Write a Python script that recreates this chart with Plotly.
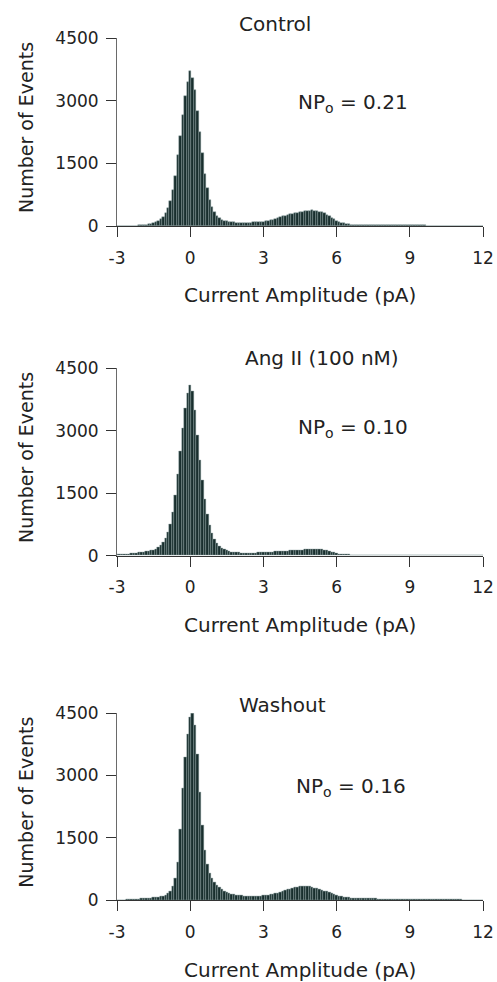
import plotly.graph_objects as go

# ---------------- data ----------------
bin_start = -3.0
bin_width = 0.1

control_counts = [
    0, 0, 0, 2, 3, 5, 6, 8, 12, 15,            # -3.0 .. -2.1
    20, 28, 35, 45, 55, 70, 90, 120, 160, 220,  # -2.0 .. -1.1
    300, 420, 600, 850, 1200, 1700, 2150, 2650, 3100, 3450,  # -1.0 .. -0.1
    3700, 3550, 3250, 2750, 2250, 1750, 1250, 900, 620, 450,  # 0.0 .. 0.9
    330, 250, 190, 150, 125, 110, 100, 90, 85, 80,   # 1.0 .. 1.9
    78, 75, 75, 78, 80, 82, 85, 88, 92, 96,          # 2.0 .. 2.9
    100, 110, 120, 135, 150, 170, 190, 210, 230, 250,  # 3.0 .. 3.9
    265, 280, 295, 310, 320, 330, 340, 350, 360, 370,  # 4.0 .. 4.9
    375, 370, 360, 345, 325, 300, 270, 235, 200, 165,  # 5.0 .. 5.9
    130, 100, 80, 62, 50, 42, 36, 32, 28, 26,          # 6.0 .. 6.9
    24, 23, 22, 22, 21, 20, 20, 19, 19, 18,            # 7.0 .. 7.9
    18, 17, 17, 17, 16, 16, 16, 15, 15, 15,            # 8.0 .. 8.9
    15, 14, 14, 14, 13, 13, 13, 12, 12, 12,            # 9.0 .. 9.9
    11, 11, 10, 10, 9, 8, 6, 4, 2, 0,                  # 10.0 .. 10.9
    0, 0, 0, 0, 0, 0, 0, 0, 0, 0, 0,                   # 11.0 .. 12.0
]

angii_counts = [
    30, 32, 35, 38, 40, 45, 50, 55, 62, 70,            # -3.0 .. -2.1
    78, 85, 95, 105, 120, 140, 165, 200, 250, 320,     # -2.0 .. -1.1
    420, 560, 760, 1050, 1450, 1950, 2500, 3050, 3550, 3900,  # -1.0 .. -0.1
    4100, 3950, 3500, 2900, 2300, 1800, 1350, 1000, 740, 540,  # 0.0 .. 0.9
    400, 300, 230, 180, 145, 120, 100, 88, 80, 74,     # 1.0 .. 1.9
    70, 66, 64, 62, 62, 64, 66, 68, 70, 72,            # 2.0 .. 2.9
    75, 78, 82, 86, 90, 94, 98, 102, 106, 110,         # 3.0 .. 3.9
    114, 118, 122, 126, 130, 134, 138, 142, 146, 150,  # 4.0 .. 4.9
    152, 154, 155, 152, 146, 138, 126, 110, 92, 75,    # 5.0 .. 5.9
    58, 45, 36, 30, 26, 22, 20, 19, 18, 17,            # 6.0 .. 6.9
    16, 16, 15, 15, 15, 14, 14, 14, 13, 13,            # 7.0 .. 7.9
    13, 12, 12, 12, 11, 11, 11, 10, 10, 10,            # 8.0 .. 8.9
    10, 10, 10, 10, 10, 9, 9, 9, 9, 9,                 # 9.0 .. 9.9
    9, 8, 8, 7, 6, 5, 4, 2, 0, 0,                      # 10.0 .. 10.9
    0, 0, 0, 0, 0, 0, 0, 0, 0, 0, 0,                   # 11.0 .. 12.0
]

washout_counts = [
    0, 0, 2, 4, 6, 10, 14, 18, 22, 26,                 # -3.0 .. -2.1
    30, 34, 38, 42, 48, 55, 62, 72, 85, 100,           # -2.0 .. -1.1
    125, 160, 220, 330, 520, 900, 1700, 2700, 3450, 4000,  # -1.0 .. -0.1
    4400, 4500, 4200, 3500, 2600, 1800, 1200, 850, 650, 520,  # 0.0 .. 0.9
    430, 360, 310, 260, 220, 185, 160, 145, 130, 120,  # 1.0 .. 1.9
    112, 105, 100, 96, 94, 92, 92, 94, 97, 100,        # 2.0 .. 2.9
    105, 112, 120, 130, 142, 156, 172, 190, 210, 230,  # 3.0 .. 3.9
    250, 270, 288, 305, 318, 328, 335, 336, 330, 320,  # 4.0 .. 4.9
    305, 290, 272, 255, 238, 220, 200, 180, 158, 135,  # 5.0 .. 5.9
    115, 98, 84, 72, 62, 55, 50, 46, 42, 39,           # 6.0 .. 6.9
    36, 35, 34, 33, 32, 31, 30, 29, 28, 28,            # 7.0 .. 7.9
    26, 25, 24, 24, 23, 22, 22, 21, 20, 20,            # 8.0 .. 8.9
    19, 18, 18, 17, 16, 16, 15, 15, 14, 14,            # 9.0 .. 9.9
    13, 13, 12, 11, 11, 10, 9, 9, 8, 8,                # 10.0 .. 10.9
    6, 5, 4, 3, 2, 0, 0, 0, 0, 0, 0,                   # 11.0 .. 12.0
]

panel_titles = ["Control", "Ang II (100 nM)", "Washout"]
npo_values = ["0.21", "0.10", "0.16"]
x_ticks = [-3, 0, 3, 6, 9, 12]
y_ticks = [0, 1500, 3000, 4500]
x_title = "Current Amplitude (pA)"
y_title = "Number of Events"

# ---------------- layout geometry ----------------
W, H = 497, 982
x_left, x_right = 117, 483
# (top px, bottom px) of each plot area
panels_px = [(38, 226), (368.3, 555.7), (713.3, 900)]
title_px = [(275, 24), (322, 358), (282, 705)]
npo_px = [(296, 103), (296, 428), (294, 787)]
xtitle_y = [295, 625, 970]

def px_x(p):
    return p / W

def px_y(p):
    return 1 - p / H

series = [control_counts, angii_counts, washout_counts]
bar_color = "#182e2d"
edge_color = "#8a9e9e"
axis_color = "#333333"
text_color = "#222222"
font_family = "DejaVu Sans"

fig = go.Figure()
layout = dict(
    width=W, height=H,
    margin=dict(l=0, r=0, t=0, b=0),
    paper_bgcolor="white", plot_bgcolor="white",
    showlegend=False, bargap=0,
    font=dict(family=font_family, color=text_color, size=17),
)
annotations = []

for i, counts in enumerate(series):
    k = "" if i == 0 else str(i + 1)
    xs = [round(bin_start + j * bin_width, 2) for j in range(len(counts))]
    fig.add_trace(go.Bar(
        x=xs, y=counts, width=bin_width,
        marker=dict(color=bar_color, line=dict(color=edge_color, width=0.45)),
        xaxis="x" + k, yaxis="y" + k,
    ))
    top, bot = panels_px[i]
    layout["xaxis" + k] = dict(
        domain=[px_x(x_left), px_x(x_right)], anchor="y" + k,
        range=[-3, 12], tickvals=x_ticks, ticktext=[str(v) for v in x_ticks],
        showline=True, linecolor=axis_color, linewidth=1.2,
        ticks="outside", ticklen=10, tickwidth=1.2, tickcolor=axis_color,
        showgrid=False, zeroline=False, ticklabelstandoff=6,
        tickfont=dict(size=17, family=font_family, color=text_color),
        automargin=False, fixedrange=True,
    )
    layout["yaxis" + k] = dict(
        domain=[px_y(bot), px_y(top)], anchor="x" + k,
        range=[0, 4500], tickvals=y_ticks, ticktext=[str(v) for v in y_ticks],
        showline=True, linecolor="#6a6a6a", linewidth=1,
        ticks="outside", ticklen=10, tickwidth=1.2, tickcolor=axis_color,
        showgrid=False, zeroline=False, ticklabelstandoff=4,
        tickfont=dict(size=17, family=font_family, color=text_color),
        automargin=False, fixedrange=True,
    )
    # panel title
    tx, ty = title_px[i]
    annotations.append(dict(
        text=panel_titles[i], x=px_x(tx), y=px_y(ty), xref="paper", yref="paper",
        showarrow=False, xanchor="center", yanchor="middle",
        font=dict(size=20, family=font_family, color=text_color),
    ))
    # NPo
    nx, ny = npo_px[i]
    annotations.append(dict(
        text="NP<sub>o</sub> = " + npo_values[i], x=px_x(nx), y=px_y(ny),
        xref="paper", yref="paper", showarrow=False, xanchor="left", yanchor="middle",
        font=dict(size=20, family=font_family, color=text_color),
    ))
    # x title
    annotations.append(dict(
        text=x_title, x=px_x((x_left + x_right) / 2), y=px_y(xtitle_y[i]),
        xref="paper", yref="paper", showarrow=False, xanchor="center", yanchor="middle",
        font=dict(size=20, family=font_family, color=text_color),
    ))
    # y title
    annotations.append(dict(
        text=y_title, x=px_x(26), y=px_y((top + bot) / 2 - 4),
        xref="paper", yref="paper", showarrow=False, xanchor="center", yanchor="middle",
        textangle=-90,
        font=dict(size=19, family=font_family, color=text_color),
    ))

layout["annotations"] = annotations
fig.update_layout(**layout)
fig.write_html("out.html")
